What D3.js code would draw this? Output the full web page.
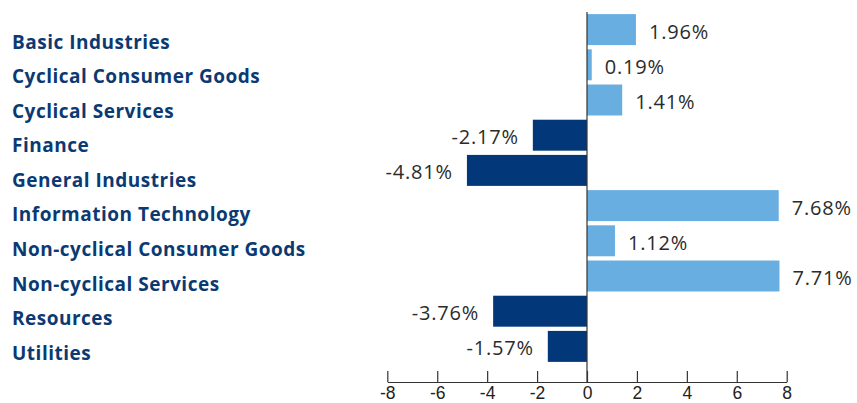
<!DOCTYPE html>
<html>
<head>
<meta charset="utf-8">
<script src="https://cdn.jsdelivr.net/npm/d3@7"></script>
<style>
  body { margin: 0; background: #fff; }
  .cat { font-family: "Open Sans", sans-serif; font-weight: 700; fill: #0b3a72; letter-spacing: 0.5px; }
  .val { font-family: "Open Sans", sans-serif; fill: #2b2b2b; letter-spacing: 0.8px; }
  .axis text { font-family: "Liberation Sans", Arial, sans-serif; font-size: 17.5px; fill: #222; }
  .axis path, .axis line { stroke: #333; stroke-width: 1.2; }
</style>
</head>
<body>
<div id="chart"></div>
<script>
var svgWidth = 857;
var svgHeight = 403;

var sectors = ["Basic Industries", "Cyclical Consumer Goods", "Cyclical Services", "Finance",
  "General Industries", "Information Technology", "Non-cyclical Consumer Goods",
  "Non-cyclical Services", "Resources", "Utilities"];
var returns = [1.96, 0.19, 1.41, -2.17, -4.81, 7.68, 1.12, 7.71, -3.76, -1.57];
var tickValues = [-8, -6, -4, -2, 0, 2, 4, 6, 8];

var data = sectors.map(function(s, i) { return { sector: s, value: returns[i] }; });

var svg = d3.select("#chart")
  .append("svg")
  .attr("width", svgWidth)
  .attr("height", svgHeight);

var xScale = d3.scaleLinear()
  .domain([-8, 8])
  .range([387.3, 786.7]);

var yScale = d3.scaleBand()
  .domain(sectors)
  .range([12, 364])
  .paddingInner(0.12)
  .paddingOuter(0.06);

// category labels sit on their own slightly tighter grid
var labelScale = d3.scalePoint()
  .domain(sectors)
  .range([42, 353]);

// plain hyphen instead of unicode minus, like the original
var fmt = v => d3.format(".2f")(v).replace("\u2212", "-");

// bars
svg.selectAll("rect.bar")
  .data(data)
  .enter()
  .append("rect")
  .attr("class", "bar")
  .attr("x", d => xScale(Math.min(0, d.value)))
  .attr("y", d => yScale(d.sector))
  .attr("width", d => Math.abs(xScale(d.value) - xScale(0)))
  .attr("height", yScale.bandwidth())
  .attr("fill", d => d.value >= 0 ? "#69aee1" : "#02387a");

// value labels
svg.selectAll("text.val")
  .data(data)
  .enter()
  .append("text")
  .attr("class", "val")
  .attr("x", d => d.value >= 0 ? xScale(d.value) + 13 : xScale(d.value) - 14)
  .attr("y", d => yScale(d.sector) + yScale.bandwidth() / 2 + 2)
  .attr("dy", "0.35em")
  .attr("text-anchor", d => d.value >= 0 ? "start" : "end")
  .style("font-size", "20px")
  .text(d => fmt(d.value) + "%");

// category labels
svg.selectAll("text.cat")
  .data(sectors)
  .enter()
  .append("text")
  .attr("class", "cat")
  .attr("x", 12)
  .attr("y", d => labelScale(d))
  .attr("dy", "0.35em")
  .style("font-size", "19px")
  .text(d => d);

// zero line
svg.append("line")
  .attr("x1", xScale(0))
  .attr("x2", xScale(0))
  .attr("y1", 12)
  .attr("y2", 382)
  .attr("stroke", "#333")
  .attr("stroke-width", 1.2);

// bottom axis
var bottomAxis = d3.axisBottom(xScale)
  .tickValues(tickValues)
  .tickSize(-11)
  .tickSizeOuter(0)
  .tickPadding(5)
  .tickFormat(d => String(d));

svg.append("g")
  .attr("class", "axis")
  .attr("transform", "translate(0, 382)")
  .call(bottomAxis);
</script>
</body>
</html>
